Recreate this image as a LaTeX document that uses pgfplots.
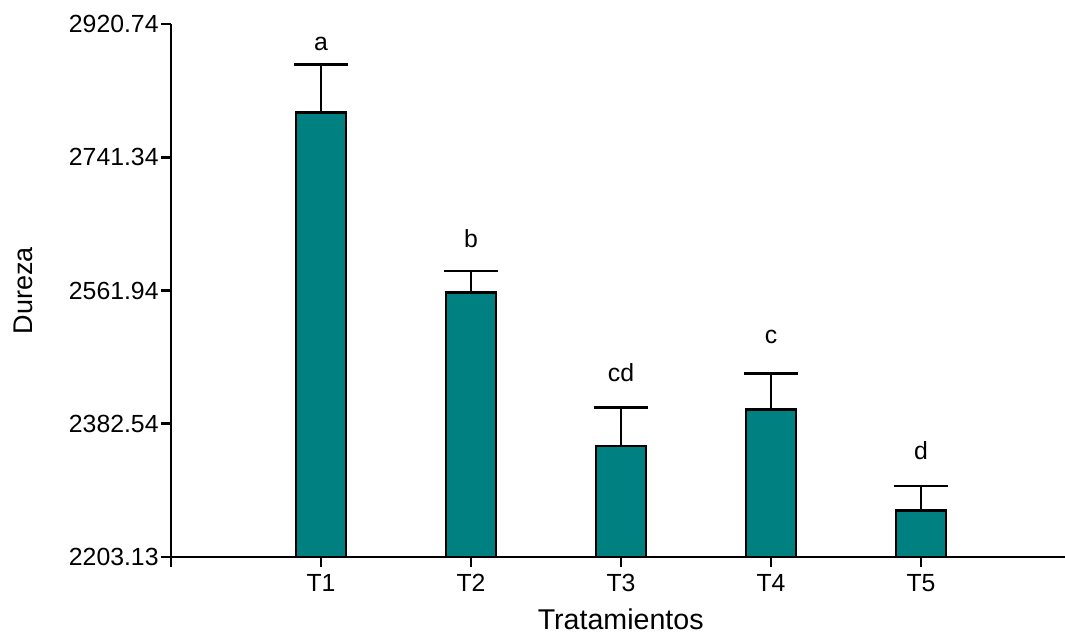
\documentclass[border=0pt]{standalone}
\usepackage{fontspec}
\setmainfont{Liberation Sans}
\usepackage{pgfplots}
\pgfplotsset{compat=1.18}
\definecolor{barteal}{HTML}{008080}
\begin{document}
\begin{tikzpicture}
\path[use as bounding box] (-85.5pt,-39pt) rectangle (447pt,278.5pt);
\begin{axis}[
  at={(0,0)}, anchor=south west,
  scale only axis, width=447pt, height=266.5pt,
  xmin=0, xmax=5.96, ymin=2203.13, ymax=2920.74,
  axis lines*=left,
  axis line style={line width=1.3pt, black},
  tick align=outside,
  major tick length=5pt,
  tick style={line width=1.3pt, black},
  xtick={0,1,2,3,4,5},
  xticklabels={,T1,T2,T3,T4,T5},
  ytick={2203.13,2382.54,2561.94,2741.34,2920.74},
  yticklabels={2203.13,2382.54,2561.94,2741.34,2920.74},
  /pgf/number format/assume math mode=true,
  ticklabel style={font=\fontsize{12.4}{14}\selectfont},
  yticklabel style={inner sep=1pt},
  xlabel={Tratamientos},
  ylabel={Dureza},
  xlabel style={font=\fontsize{14.3}{16}\selectfont, at={(axis description cs:0.503,0)}, anchor=base, yshift=-36.5pt},
  ylabel style={font=\fontsize{13.5}{16}\selectfont, at={(axis description cs:-0.1655,0.5)}, anchor=center},
]
\addplot[ybar, bar width=25pt, fill=barteal, draw=black, line width=1.3pt,
  error bars/.cd, y dir=plus, y explicit, error mark=|,
  error bar style={line width=1.3pt, black},
  error mark options={line width=1.3pt, mark size=13.5pt, black}]
  coordinates {
  (1,2801.8) +- (0,64.6)
  (2,2559.3) +- (0,29.1)
  (3,2352.7) +- (0,51.7)
  (4,2401.7) +- (0,48.5)
  (5,2265.6) +- (0,33.2)
  };
\node[anchor=base, font=\fontsize{12.4}{14}\selectfont] at (axis cs:1,2885.7) {a};
\node[anchor=base, font=\fontsize{12.4}{14}\selectfont] at (axis cs:2,2619.4) {b};
\node[anchor=base, font=\fontsize{12.4}{14}\selectfont] at (axis cs:3,2439.8) {cd};
\node[anchor=base, font=\fontsize{12.4}{14}\selectfont] at (axis cs:4,2491.0) {c};
\node[anchor=base, font=\fontsize{12.4}{14}\selectfont] at (axis cs:5,2334.7) {d};
\end{axis}
\end{tikzpicture}
\end{document}
